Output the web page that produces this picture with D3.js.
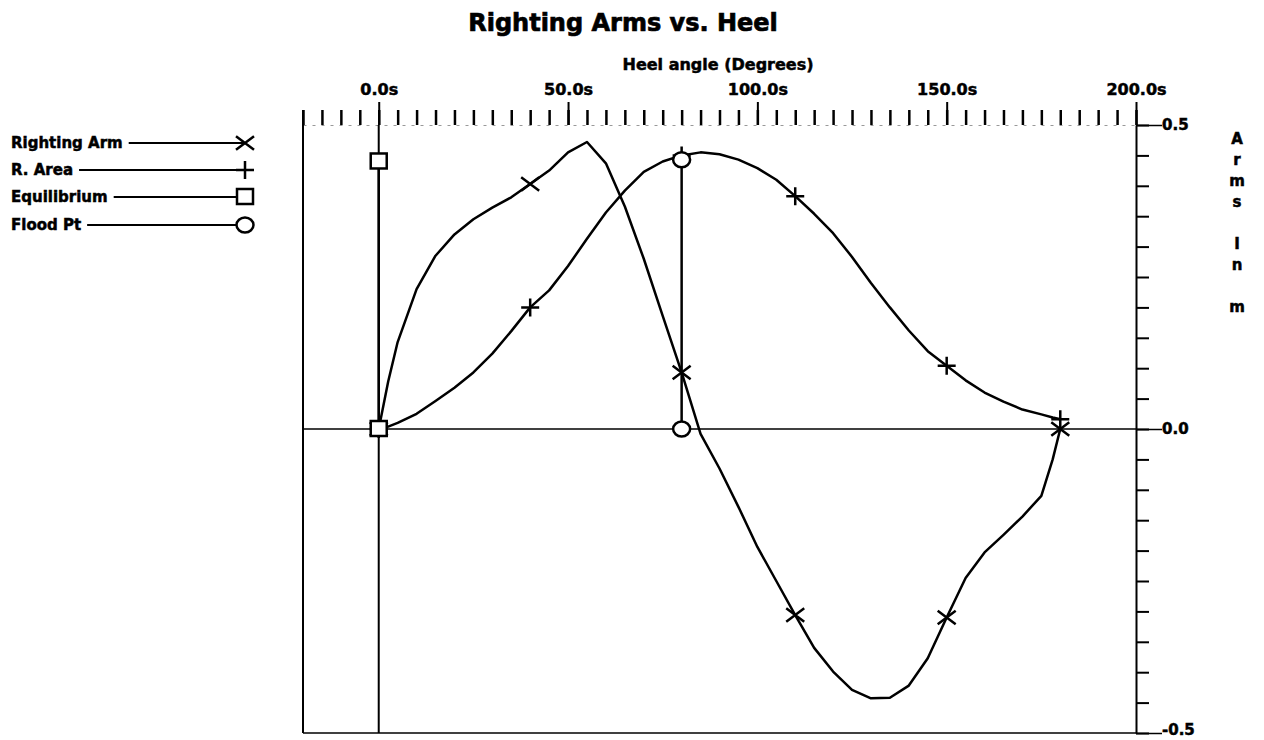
<!DOCTYPE html>
<html>
<head>
<meta charset="utf-8">
<script src="https://cdn.jsdelivr.net/npm/d3@7"></script>
<style>
  body { margin: 0; background: #fff; }
  svg text { font-family: "DejaVu Sans", sans-serif; font-weight: bold; fill: #000; stroke: #000; stroke-width: 0.5px; }
</style>
</head>
<body>
<div id="chart"></div>
<script>
// heel angle samples (degrees) and the two curves
const heelAngles = [0, 2.5, 5, 10, 15, 20, 25, 30, 35, 40, 45, 50, 55, 60, 65, 70, 75, 80, 85, 90,
                    95, 100, 105, 110, 115, 120, 125, 130, 135, 140, 145, 150, 155, 160, 165, 170, 175, 178, 180];
const rightingArm = [0, 0.078, 0.143, 0.23, 0.285, 0.32, 0.345, 0.364, 0.381, 0.403, 0.425, 0.455, 0.472, 0.437,
                     0.366, 0.28, 0.186, 0.093, -0.008, -0.065, -0.128, -0.194, -0.25, -0.306, -0.36, -0.399,
                     -0.429, -0.443, -0.442, -0.422, -0.377, -0.31, -0.245, -0.203, -0.174, -0.144, -0.11, -0.05, 0];
const rArea = [0, 0.004, 0.01, 0.025, 0.046, 0.068, 0.093, 0.124, 0.161, 0.2, 0.228, 0.268, 0.313, 0.356,
               0.392, 0.423, 0.44, 0.45, 0.455, 0.452, 0.443, 0.429, 0.41, 0.383, 0.354, 0.322, 0.283, 0.24,
               0.2, 0.162, 0.128, 0.104, 0.08, 0.06, 0.045, 0.032, 0.024, 0.019, 0.016];
const markerAngles = [0, 40, 80, 110, 150, 180];

// vertical markers
const equilibriumAngle = [0, 0];
const equilibriumArm = [0, 0.44];
const floodAngle = [80, 80];
const floodArm = [0, 0.443];

const xTickValues = [0, 50, 100, 150, 200];
const xTickLabels = ['0.0s', '50.0s', '100.0s', '150.0s', '200.0s'];
const yTickValues = [0.5, 0, -0.5];
const yTickLabels = ['0.5', '0.0', '-0.5'];

const legendNames = ['Righting Arm', 'R. Area', 'Equilibrium', 'Flood Pt'];
const legendSymbols = ['cross', 'plus', 'square', 'circle'];
const yLabelLetters = ['A', 'r', 'm', 's', '', 'I', 'n', '', 'm'];

const W = 1264, H = 740;
const svg = d3.select('#chart').append('svg')
  .attr('width', W).attr('height', H);

const x = d3.scaleLinear().domain([-20, 200]).range([303, 1136]);
const y = d3.scaleLinear().domain([-0.5, 0.5]).range([733, 125]);

// title
svg.append('text')
  .attr('x', 623).attr('y', 31)
  .attr('text-anchor', 'middle')
  .style('font-size', '24px')
  .style('stroke-width', '0.7px')
  .text('Righting Arms vs. Heel');

svg.append('text')
  .attr('x', 718).attr('y', 70)
  .attr('text-anchor', 'middle')
  .style('font-size', '16px')
  .text('Heel angle (Degrees)');

// top axis: minor then major ticks
const topMinor = svg.append('g')
  .attr('transform', `translate(0,${y(0.5)})`)
  .call(d3.axisTop(x).tickValues(d3.range(-20, 201, 5)).tickSize(15).tickSizeOuter(0).tickFormat(''));
topMinor.select('.domain').attr('stroke', '#999').attr('stroke-dasharray', '3,6');
topMinor.selectAll('.tick line').attr('stroke-width', 2.5);

const topMajor = svg.append('g')
  .attr('transform', `translate(0,${y(0.5)})`)
  .call(d3.axisTop(x).tickValues(xTickValues).tickSize(23).tickPadding(7)
        .tickFormat((d, i) => xTickLabels[i]));
topMajor.select('.domain').remove();
topMajor.selectAll('.tick line').attr('stroke-width', 2);
topMajor.selectAll('text').style('font-size', '16px').attr('font-family', null);

// right axis
const rightMinor = svg.append('g')
  .attr('transform', `translate(${x(200)},0)`)
  .call(d3.axisRight(y).tickValues(d3.range(-0.5, 0.501, 0.05)).tickSize(13).tickSizeOuter(0).tickFormat(''));
rightMinor.selectAll('line, path').attr('stroke-width', 2);

const rightMajor = svg.append('g')
  .attr('transform', `translate(${x(200)},0)`)
  .call(d3.axisRight(y).tickValues(yTickValues).tickSize(26).tickPadding(0)
        .tickFormat((d, i) => yTickLabels[i]));
rightMajor.select('.domain').remove();
rightMajor.selectAll('.tick line').attr('stroke-width', 1.5);
rightMajor.selectAll('text').style('font-size', '15px').attr('font-family', null)
  .attr('dy', d => d === -0.5 ? '0.12em' : '0.32em');

// right axis title, one letter per line
svg.append('g').selectAll('text')
  .data(yLabelLetters)
  .join('text')
  .attr('x', 1237)
  .attr('y', (d, i) => 144 + i * 21)
  .attr('text-anchor', 'middle')
  .style('font-size', '15px')
  .text(d => d);

// frame: left and bottom
svg.append('line')
  .attr('x1', x(-20)).attr('x2', x(-20)).attr('y1', y(0.5) - 15).attr('y2', y(-0.5))
  .attr('stroke', '#000').attr('stroke-width', 2);
svg.append('line')
  .attr('x1', x(-20)).attr('x2', x(200)).attr('y1', y(-0.5)).attr('y2', y(-0.5))
  .attr('stroke', '#000').attr('stroke-width', 1.5);

// origin lines
svg.append('line')
  .attr('x1', x(-20)).attr('x2', x(200)).attr('y1', y(0)).attr('y2', y(0))
  .attr('stroke', '#000').attr('stroke-width', 1.5);
svg.append('line')
  .attr('x1', x(0)).attr('x2', x(0)).attr('y1', y(0.5)).attr('y2', y(-0.5))
  .attr('stroke', '#000').attr('stroke-width', 2);

const line = d3.line().x(d => x(d[0])).y(d => y(d[1]));
const raPts = heelAngles.map((a, i) => [a, rightingArm[i]]);
const areaPts = heelAngles.map((a, i) => [a, rArea[i]]);

svg.append('path').datum(areaPts).attr('d', line)
  .attr('fill', 'none').attr('stroke', '#000').attr('stroke-width', 2.5).attr('stroke-linejoin', 'round');
svg.append('path').datum(raPts).attr('d', line)
  .attr('fill', 'none').attr('stroke', '#000').attr('stroke-width', 2.5).attr('stroke-linejoin', 'round');

const eqPts = equilibriumAngle.map((a, i) => [a, equilibriumArm[i]]);
const floodPts = floodAngle.map((a, i) => [a, floodArm[i]]);
svg.append('path').datum(eqPts).attr('d', line)
  .attr('fill', 'none').attr('stroke', '#000').attr('stroke-width', 2.5);
svg.append('path').datum(floodPts).attr('d', line)
  .attr('fill', 'none').attr('stroke', '#000').attr('stroke-width', 2.5);

function drawSymbol(g, type, cx, cy) {
  const s = 9;
  if (type === 'cross') {
    g.append('path').attr('d', `M${cx - s},${cy - s * 0.75}L${cx + s},${cy + s * 0.75}M${cx - s},${cy + s * 0.75}L${cx + s},${cy - s * 0.75}`)
      .attr('stroke', '#000').attr('stroke-width', 2.5).attr('fill', 'none');
  } else if (type === 'plus') {
    g.append('path').attr('d', `M${cx - s},${cy}L${cx + s},${cy}M${cx},${cy - s}L${cx},${cy + s}`)
      .attr('stroke', '#000').attr('stroke-width', 2.5).attr('fill', 'none');
  } else if (type === 'square') {
    g.append('rect').attr('x', cx - 8).attr('y', cy - 8).attr('width', 16).attr('height', 15)
      .attr('fill', '#fff').attr('stroke', '#000').attr('stroke-width', 2.5);
  } else {
    g.append('ellipse').attr('cx', cx).attr('cy', cy).attr('rx', 8.5).attr('ry', 7.5)
      .attr('fill', '#fff').attr('stroke', '#000').attr('stroke-width', 2.5);
  }
}

const marks = svg.append('g');
markerAngles.forEach(a => {
  const i = heelAngles.indexOf(a);
  drawSymbol(marks, 'plus', x(a), y(rArea[i]));
  drawSymbol(marks, 'cross', x(a), y(rightingArm[i]));
});
eqPts.forEach(p => drawSymbol(marks, 'square', x(p[0]), y(p[1])));
floodPts.forEach(p => drawSymbol(marks, 'circle', x(p[0]), y(p[1])));

// legend
const legendY = [143, 170, 197, 225];
const legend = svg.append('g');
legendNames.forEach((name, i) => {
  const t = legend.append('text')
    .attr('x', 11).attr('y', legendY[i] + 5)
    .style('font-size', '15px')
    .text(name);
  const tw = t.node().getComputedTextLength();
  legend.append('line')
    .attr('x1', 11 + tw + 6).attr('x2', 245)
    .attr('y1', legendY[i]).attr('y2', legendY[i])
    .attr('stroke', '#000').attr('stroke-width', 2);
  drawSymbol(legend, legendSymbols[i], 245, legendY[i]);
});
</script>
</body>
</html>
